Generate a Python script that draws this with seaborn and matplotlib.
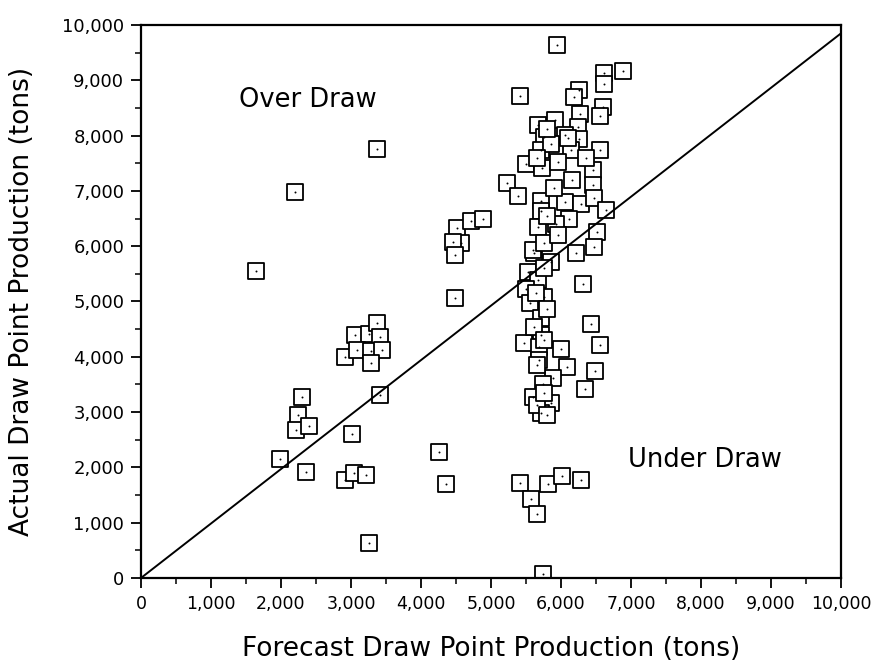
import matplotlib
matplotlib.use("Agg")
import matplotlib.pyplot as plt
import matplotlib.ticker as mticker
import seaborn as sns
import pandas as pd

# forecast vs actual draw point production (tons)
forecast = [
    1650, 2200, 3370, 1980, 2240, 2220, 2300, 2400, 2360, 2920,
    3050, 3210, 3260, 3020, 2920, 3060, 3260, 3370, 3420, 3090,
    3290, 3440, 3280, 3420, 4260, 4360, 4480, 4520, 4710, 4890,
    4570, 4460, 4490,
    5940, 5420, 6610, 6890, 6620, 6260, 6190, 6600, 6560, 6270,
    5910, 6240, 5670, 5760, 6050, 6260, 5710, 5860, 6140, 6560,
    5500, 5730, 5950, 5230, 5390, 6150, 6460, 6460, 5710, 6050,
    6280, 6470, 6640, 5710, 6120, 5930, 5670, 6520, 6470, 6210,
    5620, 5860, 5600, 5530, 5670, 6320, 5500, 5760, 5550, 5720,
    6430, 5710, 5470, 6000, 6560, 5690, 5690, 6090, 5880, 6490,
    6340, 5740, 5600, 5860, 5710, 5650,
    5800, 5650, 5900, 5800, 5750, 5760, 5640, 5800, 5620, 5760,
    5650, 5750, 5800, 6100, 6350, 5950,
    5410, 5570, 5660, 5820, 6020, 6280, 5740,
]
actual = [
    5550, 6980, 7760, 2160, 2950, 2680, 3280, 2750, 1920, 1770,
    1900, 1860, 640, 2610, 3990, 4390, 4420, 4620, 4360, 4120,
    4110, 4120, 3880, 3310, 2280, 1700, 5060, 6320, 6460, 6500,
    6050, 6080, 5840,
    9630, 8720, 9140, 9160, 8930, 8830, 8690, 8510, 8350, 8390,
    8290, 8150, 8190, 7970, 8010, 7940, 7740, 7840, 7740, 7740,
    7490, 7420, 7530, 7140, 6900, 7200, 7380, 7110, 6810, 6800,
    6760, 6870, 6650, 6630, 6500, 6400, 6350, 6260, 5990, 5870,
    5880, 5720, 5930, 5540, 5380, 5310, 5220, 5090, 4970, 4710,
    4600, 4390, 4250, 4140, 4210, 4180, 3950, 3820, 3610, 3750,
    3420, 3500, 3280, 3160, 2990, 3130,
    8120, 7600, 7050, 6550, 6050, 5600, 5150, 4870, 4530, 4300,
    3850, 3350, 2950, 7950, 7600, 6200,
    1710, 1430, 1150, 1700, 1850, 1780, 70,
]

# fitted line drawn across the plot
line_x = [0, 10000]
line_y = [0, 9850]

df = pd.DataFrame({"forecast": forecast, "actual": actual})

sns.set_style("ticks")
plt.rcParams["font.family"] = ["DejaVu Sans"]
plt.rcParams["text.color"] = "black"
plt.rcParams["axes.labelcolor"] = "black"
plt.rcParams["xtick.color"] = "black"
plt.rcParams["ytick.color"] = "black"

fig = plt.figure(figsize=(8.74, 6.72), dpi=100)
ax = fig.add_axes([0.1613, 0.1399, 0.801, 0.8229])

sns.scatterplot(data=df, x="forecast", y="actual", marker="s", s=135,
                facecolor="white", edgecolor="black", linewidth=1.3,
                ax=ax, zorder=2)
sns.scatterplot(data=df, x="forecast", y="actual", marker="o", s=2,
                color="black", linewidth=0, ax=ax, zorder=2.5)
ax.plot(line_x, line_y, color="black", linewidth=1.4, zorder=3)

ax.set_xlim(0, 10000)
ax.set_ylim(0, 10000)
ax.xaxis.set_major_locator(mticker.MultipleLocator(1000))
ax.yaxis.set_major_locator(mticker.MultipleLocator(1000))
ax.xaxis.set_minor_locator(mticker.MultipleLocator(500))
ax.yaxis.set_minor_locator(mticker.MultipleLocator(500))
fmt = mticker.StrMethodFormatter("{x:,.0f}")
ax.xaxis.set_major_formatter(fmt)
ax.yaxis.set_major_formatter(fmt)
ax.tick_params(which="major", direction="out", length=7, width=1.3,
               labelsize=13, pad=5)
ax.tick_params(axis="x", which="major", labelsize=12.5)
ax.tick_params(which="minor", direction="out", length=4, width=1.1)

for sp in ax.spines.values():
    sp.set_linewidth(1.6)
    sp.set_color("black")

ax.set_xlabel("Forecast Draw Point Production (tons)", fontsize=19)
ax.set_ylabel("Actual Draw Point Production (tons)", fontsize=19)
ax.xaxis.set_label_coords(0.5, -0.105)
ax.yaxis.set_label_coords(-0.152, 0.5)

ax.text(1400, 8650, "Over Draw", fontsize=18.5, va="center", ha="left")
ax.text(6950, 2130, "Under Draw", fontsize=18.5, va="center", ha="left")

fig.savefig("out.png", dpi=100)
